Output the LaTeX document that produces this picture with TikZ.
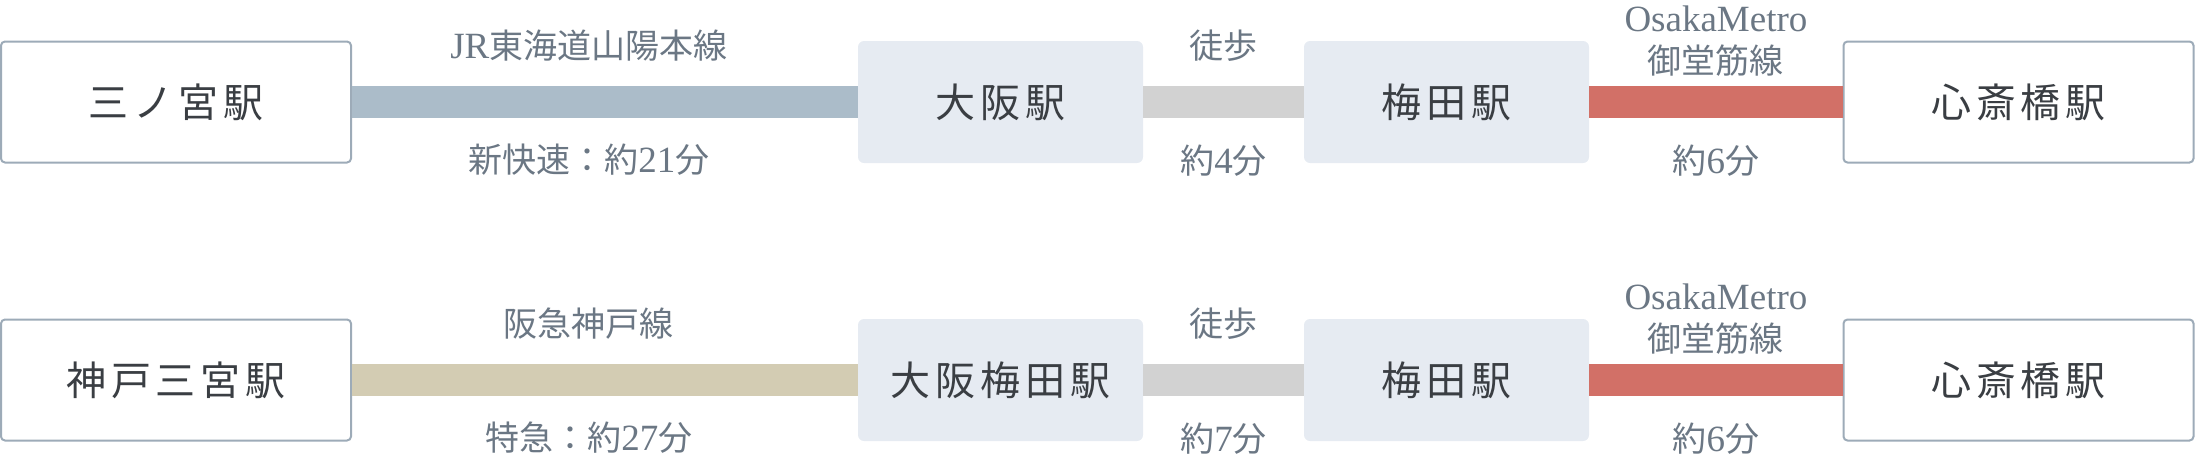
\documentclass[tikz,border=0pt]{standalone}
\usepackage{fontspec}
\setmainfont{Liberation Serif}
\newfontfamily\cjk{Noto Sans CJK JP}
\newfontfamily\cjkwide[LetterSpace=12]{Noto Sans CJK JP}
\newcommand{\latn}[1]{{\rmfamily\fontsize{18.5pt}{21pt}\selectfont #1}}

\definecolor{boxline}{HTML}{9DABB8}
\definecolor{hubfill}{HTML}{E6EBF2}
\definecolor{stntext}{HTML}{3A3E43}
\definecolor{lbltext}{HTML}{6B7784}
\definecolor{jrline}{HTML}{ABBCC9}
\definecolor{hkline}{HTML}{D3CCB3}
\definecolor{walkline}{HTML}{D2D2D2}
\definecolor{metroline}{HTML}{D27067}

\begin{document}
\begin{tikzpicture}[x=0.5pt, y=-0.5pt,
	endstn/.style={draw=boxline, line width=1pt, fill=white, rounded corners=2pt, minimum width=175pt, minimum height=60.5pt, inner sep=0pt, text=stntext, font=\cjkwide\fontsize{20pt}{24pt}\selectfont},
	midstn/.style={fill=hubfill, rounded corners=3pt, minimum width=142.5pt, minimum height=61pt, inner sep=0pt, text=stntext, font=\cjkwide\fontsize{20pt}{24pt}\selectfont},
	lbl/.style={midway, text=lbltext, inner sep=0pt, align=center, font=\cjk\fontsize{17pt}{21pt}\selectfont},
	bar/.style={line width=16pt}]
				\useasboundingbox (0, 0) rectangle (2195, 457);
				
				\path (176, 102) node[endstn] (a1){三ノ宮駅}
				(1000.5, 102) node[midstn] (a2){大阪駅}
				(1446.5, 102) node[midstn] (a3){梅田駅}
				(2018.5, 102) node[endstn] (a4){心斎橋駅}
				(176, 380) node[endstn] (b1){神戸三宮駅}
				(1000.5, 380) node[midstn] (b2){大阪梅田駅}
				(1446.5, 380) node[midstn] (b3){梅田駅}
				(2018.5, 380) node[endstn] (b4){心斎橋駅};
				
				\draw[bar, jrline] (a1) -- node[lbl, xshift=-8pt, yshift=28pt] {\latn{JR}東海道山陽本線} node[lbl, xshift=-8pt, yshift=-29pt] {新快速：約\latn{21}分} (a2);
				\draw[bar, walkline] (a2) -- node[lbl, yshift=28pt] {徒歩} node[lbl, yshift=-29.5pt] {約\latn{4}分} (a3);
				\draw[bar, metroline] (a3) -- node[lbl, yshift=30.5pt] {\latn{OsakaMetro}\\御堂筋線} node[lbl, yshift=-29.5pt] {約\latn{6}分} (a4);
				
				\draw[bar, hkline] (b1) -- node[lbl, xshift=-8pt, yshift=28pt] {阪急神戸線} node[lbl, xshift=-8pt, yshift=-29pt] {特急：約\latn{27}分} (b2);
				\draw[bar, walkline] (b2) -- node[lbl, yshift=28pt] {徒歩} node[lbl, yshift=-29.5pt] {約\latn{7}分} (b3);
				\draw[bar, metroline] (b3) -- node[lbl, yshift=30.5pt] {\latn{OsakaMetro}\\御堂筋線} node[lbl, yshift=-29.5pt] {約\latn{6}分} (b4);
			\end{tikzpicture}
\end{document}
